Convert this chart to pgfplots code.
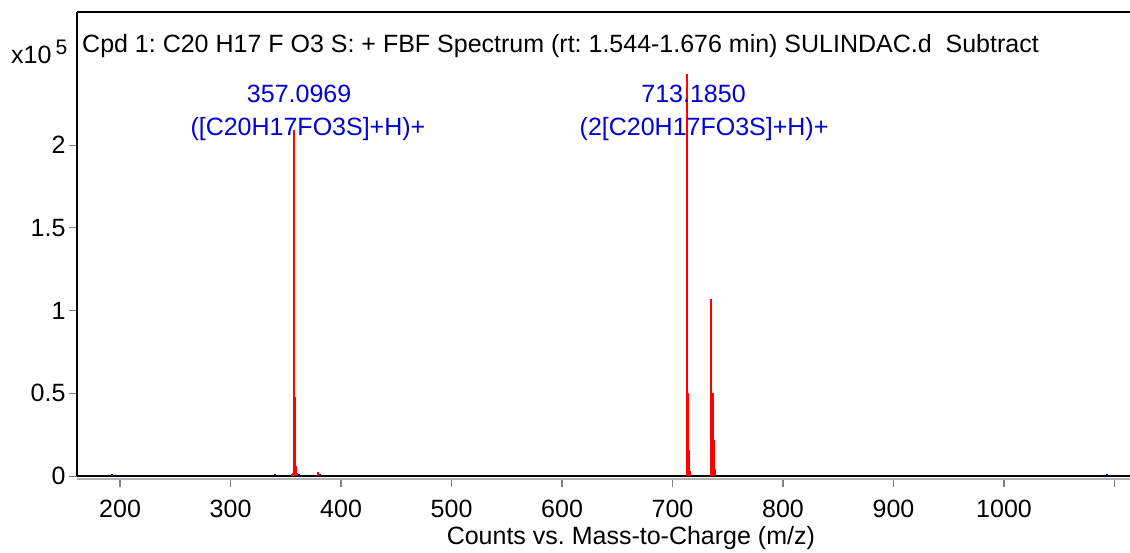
\documentclass[border=0pt]{standalone}
\usepackage{fontspec}
\setmainfont{Liberation Sans}
\usepackage{pgfplots}
\pgfplotsset{compat=1.18}
\definecolor{annblue}{RGB}{0,0,215}
\begin{document}
\frenchspacing
\begin{tikzpicture}[font=\fontsize{25}{29}\selectfont]
\useasboundingbox (0,0) rectangle (1130pt,552pt);
\begin{axis}[
  name=ax,
  at={(77pt,76pt)}, anchor=south west,
  scale only axis, width=1053pt, height=464pt,
  xmin=161, xmax=1114, ymin=0, ymax=2.804,
  axis lines*=left,
  axis line style={-, line width=1.2pt},
  xtick={200,300,400,500,600,700,800,900,1000,1100},
  xticklabels={200,300,400,500,600,700,800,900,1000,},
  ytick={0,0.5,1,1.5,2},
  yticklabels={0,0.5,1,1.5,2},
  tick align=outside,
  xtick style={line width=1.2pt, yshift=-3pt},
  ytick style={line width=0.8pt},
  x tick label style={yshift=-13pt},
  major tick length=8pt,
  xlabel={Counts vs. Mass-to-Charge (m/z)},
  xlabel style={at={(axis description cs:0.526,0)}, anchor=center, yshift=-62pt},
]
\addplot[ycomb, red, line width=2pt] coordinates {
(355.5,0.01) (356.1,0.02) (357.1,2.09) (357.6,0.10) (358.1,0.48) (358.6,0.03)
(359.1,0.06) (360.1,0.02) (379.1,0.025)
(713.2,2.43) (713.7,0.08) (714.2,0.50) (714.7,0.04) (715.2,0.16) (716.2,0.03)
(735.2,1.07) (735.7,0.06) (736.2,0.50) (736.7,0.05) (737.2,0.22) (738.2,0.04)
};
\addplot[ycomb, blue!70!black, line width=2.5pt] coordinates {
(192.5,0.012) (340,0.012) (362,0.012) (381,0.012) (1093,0.015) (1095.5,0.008)
};
\node[annblue, anchor=base] at (axis cs:362,2.26) {357.0969};
\node[annblue, anchor=base] at (axis cs:370,2.06) {([C20H17FO3S]+H)+};
\node[annblue, anchor=base] at (axis cs:719,2.26) {713.1850};
\node[annblue, anchor=base] at (axis cs:728.5,2.06) {(2[C20H17FO3S]+H)+};
\end{axis}
\draw[line width=1.2pt] (ax.north west) -- (ax.north east);
\draw[gray!60, line width=1.2pt] ([yshift=-3pt]ax.south west) -- ([yshift=-3pt]ax.south east);
\node[anchor=base west, inner sep=0pt] at (82pt,499pt) {Cpd 1: C20 H17 F O3 S: + FBF Spectrum (rt: 1.544-1.676 min) SULINDAC.d\ \ Subtract};
\node[anchor=base west, inner sep=0pt] at (11pt,488pt) {x10\,\raisebox{9pt}{\fontsize{21}{22}\selectfont 5}};
\end{tikzpicture}
\end{document}
